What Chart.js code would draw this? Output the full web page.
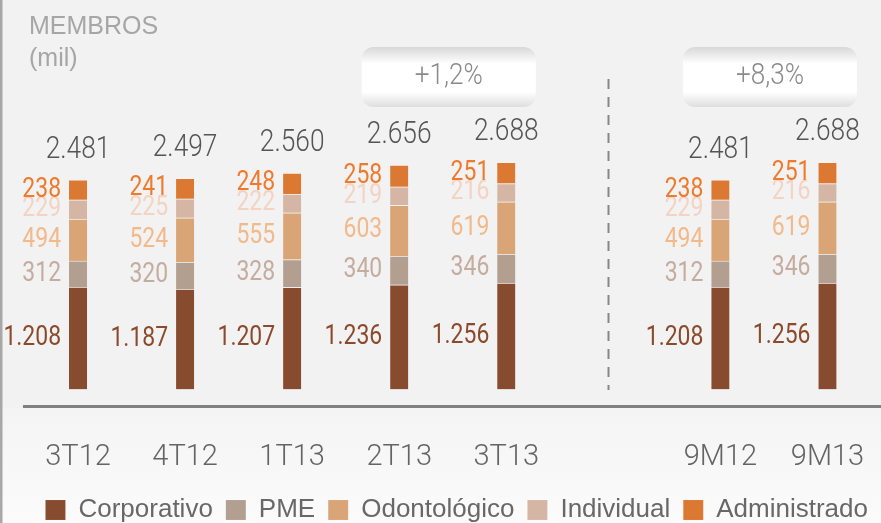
<!DOCTYPE html>
<html>
<head>
<meta charset="utf-8">
<script src="https://cdn.jsdelivr.net/npm/chart.js@4"></script>
<style>
    html, body { margin: 0; padding: 0; background: #f2f2f2; }
    #wrap { width: 881px; height: 523px; }
</style>
</head>
<body>
<div id="wrap"><canvas id="membrosChart" width="881" height="523"></canvas></div>
<script>
const categories   = ['3T12', '4T12', '1T13', '2T13', '3T13', '', '9M12', '9M13'];
const corporativo  = [1208, 1187, 1207, 1236, 1256, null, 1208, 1256];
const pme          = [312, 320, 328, 340, 346, null, 312, 346];
const odontologico = [494, 524, 555, 603, 619, null, 494, 619];
const individual   = [229, 225, 222, 219, 216, null, 229, 216];
const administrado = [238, 241, 248, 258, 251, null, 238, 251];
const growthLabels = ['+1,2%', '+8,3%'];
const growthPairs  = [[3, 4], [6, 7]];

const numFont = "Roboto, 'DejaVu Sans', sans-serif";
const textFont = "'Liberation Sans', Arial, sans-serif";

const barColors   = ['#874b2f', '#b39f90', '#d9a576', '#d5b6a5', '#db7832'];
const labelColors = ['#8b4a2b', '#c4ad9e', '#f2b98a', '#f3d3c2', '#ef7a2c'];

function fmt(v) {
    return String(v).replace(/\B(?=(\d{3})+(?!\d))/g, '.');
}

// texto "condensado" (escala horizontal)
function narrowText(ctx, txt, x, y, sx) {
    ctx.save();
    ctx.translate(x, y);
    ctx.scale(sx, 1);
    ctx.fillText(txt, 0, 0);
    ctx.restore();
}

const decorPlugin = {
    id: 'decor',
    beforeDraw(chart) {
        const {ctx, width, height} = chart;
        ctx.save();
        ctx.fillStyle = '#f2f2f2';
        ctx.fillRect(0, 0, width, height);
        const g = ctx.createLinearGradient(0, 408, 0, height);
        g.addColorStop(0, '#f4f4f4');
        g.addColorStop(1, '#fbfbfb');
        ctx.fillStyle = g;
        ctx.fillRect(0, 408, width, height - 408);
        ctx.fillStyle = '#a8a8a8';
        ctx.fillRect(0, 0, 2.5, height);
        ctx.restore();
    },
    afterDatasetsDraw(chart) {
        const {ctx} = chart;
        const x = chart.scales.x;
        ctx.save();

        // titulo
        ctx.fillStyle = '#a6a6a6';
        ctx.font = '25px ' + textFont;
        ctx.textAlign = 'left';
        ctx.textBaseline = 'alphabetic';
        ctx.fillText('MEMBROS', 29, 34);
        ctx.fillText('(mil)', 29, 66);

        // linha tracejada
        const dx = Math.round(x.getPixelForValue(5)) - 4.5;
        ctx.strokeStyle = '#878787';
        ctx.lineWidth = 2;
        ctx.setLineDash([10, 8]);
        ctx.beginPath();
        ctx.moveTo(dx, 79);
        ctx.lineTo(dx, 390);
        ctx.stroke();
        ctx.setLineDash([]);

        // caixas de crescimento
        growthPairs.forEach((pair, k) => {
            const cx = (x.getPixelForValue(pair[0]) + x.getPixelForValue(pair[1])) / 2 - 4;
            const w = 174, h = 60, top = 47, left = cx - w / 2;
            const g = ctx.createLinearGradient(0, top, 0, top + h);
            g.addColorStop(0, '#d8d8d8');
            g.addColorStop(0.28, '#ffffff');
            g.addColorStop(0.75, '#ffffff');
            g.addColorStop(1, '#dedede');
            ctx.fillStyle = g;
            ctx.beginPath();
            ctx.roundRect(left, top, w, h, 12);
            ctx.fill();
            ctx.fillStyle = '#8a8a8a';
            ctx.font = '300 29px ' + numFont;
            ctx.textAlign = 'center';
            ctx.textBaseline = 'middle';
            narrowText(ctx, growthLabels[k], cx, top + h / 2, 0.9);
        });

        // rotulos dos segmentos
        ctx.textAlign = 'right';
        ctx.textBaseline = 'middle';
        chart.data.datasets.forEach((ds, i) => {
            const meta = chart.getDatasetMeta(i);
            ctx.fillStyle = labelColors[i];
            ctx.font = '27px ' + numFont;
            meta.data.forEach((el, j) => {
                const v = ds.data[j];
                if (v == null) return;
                narrowText(ctx, fmt(v), el.x - el.width / 2 - 8, (el.y + el.base) / 2, 0.85);
            });
        });

        // totais
        ctx.textAlign = 'center';
        ctx.fillStyle = '#555555';
        ctx.font = '300 31px ' + numFont;
        const topMeta = chart.getDatasetMeta(chart.data.datasets.length - 1);
        categories.forEach((c, j) => {
            let total = 0, any = false;
            chart.data.datasets.forEach(ds => {
                if (ds.data[j] != null) { total += ds.data[j]; any = true; }
            });
            if (!any) return;
            const el = topMeta.data[j];
            narrowText(ctx, fmt(total), el.x, el.y - 30, 0.85);
        });
        ctx.restore();
    }
};

const names = ['Corporativo', 'PME', 'Odontológico', 'Individual', 'Administrado'];
const series = [corporativo, pme, odontologico, individual, administrado];

new Chart(document.getElementById('membrosChart'), {
    type: 'bar',
    data: {
        labels: categories,
        datasets: series.map((d, i) => ({
            label: names[i],
            data: d,
            backgroundColor: barColors[i],
            borderColor: 'rgba(255,255,255,0.35)',
            borderWidth: {top: 1},
            borderSkipped: 'start',
            barThickness: 18
        }))
    },
    options: {
        responsive: false,
        animation: false,
        layout: { padding: { top: 136, left: 24.5, right: 0, bottom: -10 } },
        plugins: {
            tooltip: { enabled: false },
            legend: {
                position: 'bottom',
                align: 'end',
                labels: {
                    boxWidth: 20,
                    boxHeight: 20,
                    padding: 13,
                    color: '#686868',
                    font: { family: textFont, size: 26 }
                }
            }
        },
        scales: {
            x: {
                stacked: true,
                grid: { color: 'transparent', drawTicks: false },
                border: { display: true, color: '#808080', width: 3 },
                ticks: {
                    color: '#646464',
                    padding: 8,
                    font: { family: numFont, size: 29, weight: '300', lineHeight: '88px' }
                },
                afterFit(scale) { scale.height = 78; }
            },
            y: {
                stacked: true,
                display: false,
                min: -200,
                max: 3000
            }
        }
    },
    plugins: [decorPlugin]
});
</script>
</body>
</html>
